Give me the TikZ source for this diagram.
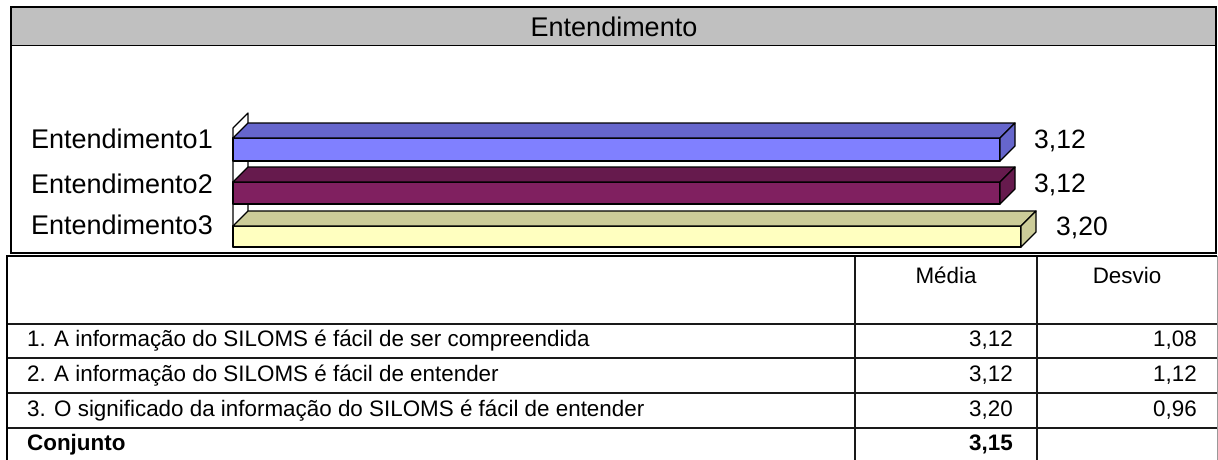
\documentclass[tikz,border=0pt]{standalone}
\usepackage{fontspec}
\setmainfont{Liberation Sans}
\definecolor{bandgray}{HTML}{C0C0C0}
\definecolor{bluefront}{HTML}{8080FF}
\definecolor{blueside}{HTML}{6666CC}
\definecolor{plumfront}{HTML}{802060}
\definecolor{plumside}{HTML}{661A4D}
\definecolor{creamfront}{HTML}{FFFFC0}
\definecolor{creamside}{HTML}{CCCC99}
\newcommand\tdbar[5]{%
  \draw[barline,fill=#4] (233,#1) rectangle (#3,#2);
  \draw[barline,fill=#5] (233,#1) -- (248,#1-15) -- (#3+15,#1-15) -- (#3,#1) -- cycle;
  \draw[barline,fill=#5] (#3,#1) -- (#3+15,#1-15) -- (#3+15,#2-15) -- (#3,#2) -- cycle;}
\begin{document}
\begin{tikzpicture}[x=1pt,y=-1pt,
  framebox/.style={draw=black,line width=2pt},
  gridline/.style={draw=black!90,line width=1.4pt},
  barline/.style={draw=black,line width=1.2pt,line join=round},
  titletext/.style={font=\fontsize{27}{30}\selectfont,inner sep=0,anchor=base},
  lbl/.style={font=\fontsize{27}{30}\selectfont,anchor=base east,inner sep=0},
  val/.style={font=\fontsize{26.5}{30}\selectfont,anchor=base west,inner sep=0},
  cellL/.style={font=\fontsize{22.4}{24}\selectfont,inner sep=0,anchor=base west},
  cellR/.style={font=\fontsize{22.4}{24}\selectfont,inner sep=0,anchor=base east},
  cellC/.style={font=\fontsize{22.4}{24}\selectfont,inner sep=0,anchor=base}]
\useasboundingbox[fill=white] (0,0) rectangle (1218,460);
% chart frame
\fill[bandgray] (11,7) rectangle (1216,46);
\draw[black,line width=1pt] (11,46) -- (1216,46);
\draw[framebox] (11,7) rectangle (1216,253);
\node[titletext] (title) at (614,37) {Entendimento};
% wall
\draw[barline,fill=white] (233,128) -- (248,113) -- (248,232) -- (233,247) -- cycle;
% bars
\tdbar{138}{161}{1000}{bluefront}{blueside}
\tdbar{182}{204}{1000}{plumfront}{plumside}
\tdbar{226}{247}{1021}{creamfront}{creamside}
% category labels
\node[lbl] (l1) at (213,148) {Entendimento1};
\node[lbl] (l2) at (213,193) {Entendimento2};
\node[lbl] (l3) at (213,234) {Entendimento3};
% value labels
\node[val] (v1) at (1034,148) {3,12};
\node[val] (v2) at (1034,192) {3,12};
\node[val] (v3) at (1056,235) {3,20};
% table
\draw[black!40,line width=1pt] (1217,256) -- (1217,460);
\draw[gridline] (7,324) -- (1217,324);
\draw[gridline] (7,358) -- (1217,358);
\draw[gridline] (7,393) -- (1217,393);
\draw[gridline] (7,428) -- (1217,428);
\draw[gridline] (855,256) -- (855,460);
\draw[gridline] (1037,256) -- (1037,460);
\draw[framebox] (7,460) -- (7,256) -- (1217,256);
\node[cellC] (hm) at (946,283) {Média};
\node[cellC] (hd) at (1127,283) {Desvio};
\node[cellL] (r1) at (27,346) {1. A informação do SILOMS é fácil de ser compreendida};
\node[cellL] (r2) at (27,381) {2. A informação do SILOMS é fácil de entender};
\node[cellL] (r3) at (27,416) {3. O significado da informação do SILOMS é fácil de entender};
\node[cellL,font=\fontsize{22.4}{24}\selectfont\bfseries] (r4) at (27,450) {Conjunto};
\node[cellR] (m1) at (1013,346) {3,12};
\node[cellR] (m2) at (1013,381) {3,12};
\node[cellR] (m3) at (1013,416) {3,20};
\node[cellR,font=\fontsize{22.4}{24}\selectfont\bfseries] (m4) at (1013,450) {3,15};
\node[cellR] (d1) at (1197,346) {1,08};
\node[cellR] (d2) at (1197,381) {1,12};
\node[cellR] (d3) at (1197,416) {0,96};
\end{tikzpicture}
\end{document}
